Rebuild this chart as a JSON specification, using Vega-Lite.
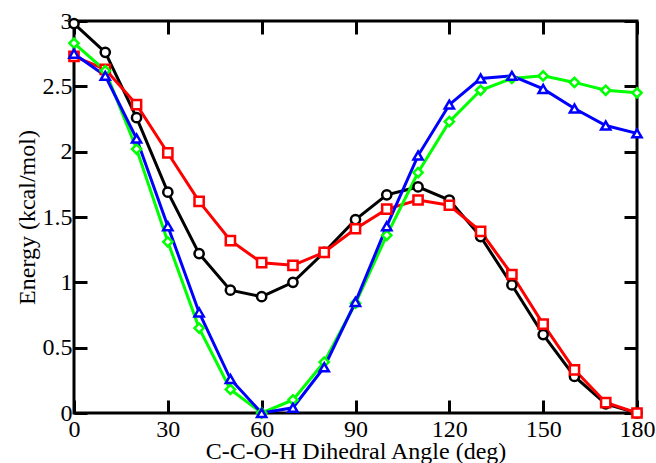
{
  "$schema": "https://vega.github.io/schema/vega-lite/v6.json",
  "width": 563,
  "height": 392,
  "autosize": "none",
  "padding": {"left": 74, "top": 21, "right": 19, "bottom": 50},
  "background": "white",
  "config": {
    "font": "Liberation Serif",
    "view": {"stroke": "black", "strokeWidth": 3},
    "axis": {
      "grid": false,
      "domain": false,
      "offset": -13,
      "zindex": 1,
      "ticks": true,
      "tickColor": "black",
      "tickOpacity": 1,
      "tickWidth": 3,
      "tickSize": 13,
      "labelFlush": false,
      "labelOverlap": false,
      "labelFont": "Liberation Serif",
      "labelFontSize": 24,
      "labelColor": "black",
      "titleFont": "Liberation Serif",
      "titleFontSize": 24,
      "titleFontWeight": "normal",
      "titleColor": "black"
    }
  },
  "data": {
    "values": [
      {"angle": 0, "energy": 2.98, "series": "A"},
      {"angle": 10, "energy": 2.76, "series": "A"},
      {"angle": 20, "energy": 2.26, "series": "A"},
      {"angle": 30, "energy": 1.69, "series": "A"},
      {"angle": 40, "energy": 1.22, "series": "A"},
      {"angle": 50, "energy": 0.94, "series": "A"},
      {"angle": 60, "energy": 0.89, "series": "A"},
      {"angle": 70, "energy": 1.0, "series": "A"},
      {"angle": 80, "energy": 1.23, "series": "A"},
      {"angle": 90, "energy": 1.48, "series": "A"},
      {"angle": 100, "energy": 1.67, "series": "A"},
      {"angle": 110, "energy": 1.73, "series": "A"},
      {"angle": 120, "energy": 1.63, "series": "A"},
      {"angle": 130, "energy": 1.35, "series": "A"},
      {"angle": 140, "energy": 0.98, "series": "A"},
      {"angle": 150, "energy": 0.6, "series": "A"},
      {"angle": 160, "energy": 0.28, "series": "A"},
      {"angle": 170, "energy": 0.07, "series": "A"},
      {"angle": 180, "energy": 0.0, "series": "A"},
      {"angle": 0, "energy": 2.73, "series": "B"},
      {"angle": 10, "energy": 2.63, "series": "B"},
      {"angle": 20, "energy": 2.36, "series": "B"},
      {"angle": 30, "energy": 1.99, "series": "B"},
      {"angle": 40, "energy": 1.62, "series": "B"},
      {"angle": 50, "energy": 1.32, "series": "B"},
      {"angle": 60, "energy": 1.15, "series": "B"},
      {"angle": 70, "energy": 1.13, "series": "B"},
      {"angle": 80, "energy": 1.23, "series": "B"},
      {"angle": 90, "energy": 1.41, "series": "B"},
      {"angle": 100, "energy": 1.56, "series": "B"},
      {"angle": 110, "energy": 1.63, "series": "B"},
      {"angle": 120, "energy": 1.59, "series": "B"},
      {"angle": 130, "energy": 1.39, "series": "B"},
      {"angle": 140, "energy": 1.06, "series": "B"},
      {"angle": 150, "energy": 0.68, "series": "B"},
      {"angle": 160, "energy": 0.33, "series": "B"},
      {"angle": 170, "energy": 0.08, "series": "B"},
      {"angle": 180, "energy": 0.0, "series": "B"},
      {"angle": 0, "energy": 2.83, "series": "C"},
      {"angle": 10, "energy": 2.62, "series": "C"},
      {"angle": 20, "energy": 2.02, "series": "C"},
      {"angle": 30, "energy": 1.31, "series": "C"},
      {"angle": 40, "energy": 0.65, "series": "C"},
      {"angle": 50, "energy": 0.18, "series": "C"},
      {"angle": 60, "energy": 0.0, "series": "C"},
      {"angle": 70, "energy": 0.1, "series": "C"},
      {"angle": 80, "energy": 0.39, "series": "C"},
      {"angle": 90, "energy": 0.84, "series": "C"},
      {"angle": 100, "energy": 1.36, "series": "C"},
      {"angle": 110, "energy": 1.84, "series": "C"},
      {"angle": 120, "energy": 2.23, "series": "C"},
      {"angle": 130, "energy": 2.47, "series": "C"},
      {"angle": 140, "energy": 2.56, "series": "C"},
      {"angle": 150, "energy": 2.58, "series": "C"},
      {"angle": 160, "energy": 2.53, "series": "C"},
      {"angle": 170, "energy": 2.47, "series": "C"},
      {"angle": 180, "energy": 2.45, "series": "C"},
      {"angle": 0, "energy": 2.75, "series": "D"},
      {"angle": 10, "energy": 2.58, "series": "D"},
      {"angle": 20, "energy": 2.1, "series": "D"},
      {"angle": 30, "energy": 1.43, "series": "D"},
      {"angle": 40, "energy": 0.77, "series": "D"},
      {"angle": 50, "energy": 0.26, "series": "D"},
      {"angle": 60, "energy": 0.0, "series": "D"},
      {"angle": 70, "energy": 0.04, "series": "D"},
      {"angle": 80, "energy": 0.35, "series": "D"},
      {"angle": 90, "energy": 0.85, "series": "D"},
      {"angle": 100, "energy": 1.43, "series": "D"},
      {"angle": 110, "energy": 1.97, "series": "D"},
      {"angle": 120, "energy": 2.36, "series": "D"},
      {"angle": 130, "energy": 2.56, "series": "D"},
      {"angle": 140, "energy": 2.58, "series": "D"},
      {"angle": 150, "energy": 2.48, "series": "D"},
      {"angle": 160, "energy": 2.33, "series": "D"},
      {"angle": 170, "energy": 2.2, "series": "D"},
      {"angle": 180, "energy": 2.14, "series": "D"}
    ]
  },
  "layer": [
    {
      "encoding": {
        "x": {
          "field": "angle",
          "type": "quantitative",
          "scale": {"domain": [0, 180], "nice": false, "zero": false},
          "axis": {"values": [0, 30, 60, 90, 120, 150, 180], "title": "C-C-O-H Dihedral Angle (deg)", "labelPadding": 4, "titleY": 58, "titleBaseline": "alphabetic"}
        },
        "y": {
          "field": "energy",
          "type": "quantitative",
          "scale": {"domain": [0, 3], "nice": false, "zero": false},
          "axis": {"values": [0, 0.5, 1, 1.5, 2, 2.5, 3], "format": "~g", "title": "Energy (kcal/mol)", "labelPadding": 2, "titleX": -53, "titleBaseline": "alphabetic"}
        },
        "color": {
          "field": "series",
          "type": "nominal",
          "scale": {"domain": ["A", "B", "C", "D"], "range": ["#000000", "#ff0000", "#00ff00", "#0000ff"]},
          "legend": null
        }
      },
      "layer": [
        {
          "mark": {"type": "line", "strokeWidth": 3, "clip": false}
        },
        {
          "mark": {"type": "point", "filled": false, "fill": "white", "fillOpacity": 1, "strokeWidth": 2.5, "size": 85, "opacity": 1, "clip": false},
          "encoding": {
            "shape": {
              "field": "series",
              "type": "nominal",
              "scale": {"domain": ["A", "B", "C", "D"], "range": ["circle", "square", "diamond", "triangle-up"]},
              "legend": null
            }
          }
        }
      ]
    },
    {
      "mark": {"type": "point", "opacity": 0},
      "encoding": {
        "x": {"field": "angle", "type": "quantitative", "scale": {"domain": [0, 180], "nice": false, "zero": false}, "axis": {"orient": "top", "values": [0, 30, 60, 90, 120, 150, 180], "labels": false, "title": null}},
        "y": {"field": "energy", "type": "quantitative", "scale": {"domain": [0, 3], "nice": false, "zero": false}, "axis": {"orient": "right", "values": [0, 0.5, 1, 1.5, 2, 2.5, 3], "labels": false, "title": null}}
      }
    }
  ],
  "resolve": {"axis": {"x": "independent", "y": "independent"}}
}
